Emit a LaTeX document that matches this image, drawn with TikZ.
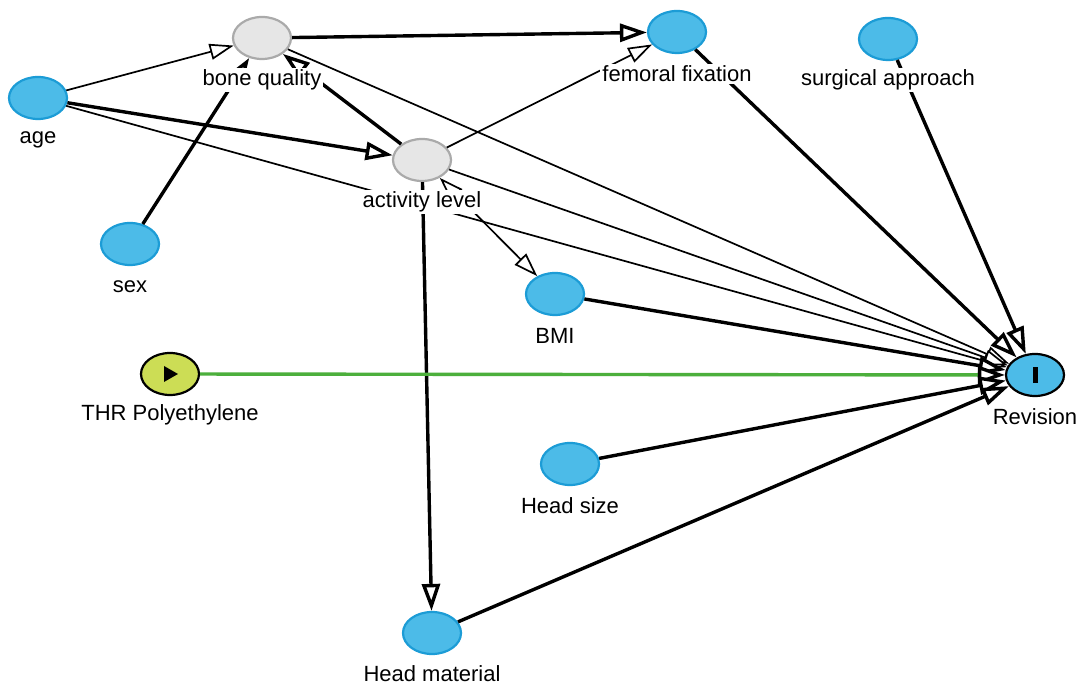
\documentclass[tikz,border=0pt]{standalone}
\usepackage{fontspec}
\setmainfont{Liberation Sans}
\usetikzlibrary{arrows.meta,shapes.geometric}
\definecolor{nblue}{RGB}{76,187,232}
\definecolor{nbord}{RGB}{28,156,214}
\definecolor{ngray}{RGB}{230,230,230}
\definecolor{ngbord}{RGB}{170,170,170}
\definecolor{nyel}{RGB}{204,221,85}
\definecolor{egreen}{RGB}{76,175,60}
\begin{document}
\begin{tikzpicture}[x=0.5pt,y=-0.5pt,
 var/.style={ellipse, minimum width=29pt, minimum height=21pt, inner sep=0pt, line width=1.1pt},
 obs/.style={var, fill=nblue, draw=nbord},
 lat/.style={var, fill=ngray, draw=ngbord},
 lab/.style={fill=white, inner sep=1pt, font=\fontsize{11}{12}\selectfont},
 tedge/.style={line width=0.85pt, -{Triangle[fill=white,length=12pt,width=8pt]}},
 kedge/.style={line width=1.7pt, -{Triangle[fill=white,length=13.5pt,width=9pt]}},
]
\useasboundingbox[fill=white] (0,0) rectangle (1080,688);
% nodes
\node[obs] (age) at (38,98) {};
\node[lat] (bq) at (262,38) {};
\node[obs] (sex) at (130,244) {};
\node[lat] (act) at (422,160) {};
\node[obs] (ff) at (677,32) {};
\node[obs] (sa) at (888,39) {};
\node[obs] (bmi) at (555,294) {};
\node[var, fill=nyel, draw=black] (thr) at (170,374) {};
\node[var, fill=nblue, draw=black] (rev) at (1035,375) {};
\node[obs] (hs) at (570,464) {};
\node[obs] (hm) at (432,633) {};
% edges
\draw[tedge] (age) -- (bq);
\draw[kedge] (age) -- (act);
\draw[tedge] (age) -- (rev);
\draw[kedge] (sex) -- (bq);
\draw[kedge] (act) -- (bq);
\draw[kedge] (bq) -- (ff);
\draw[tedge] (bq) -- (rev);
\draw[tedge] (act) -- (ff);
\draw[tedge] (act) -- (rev);
\draw[tedge, {Triangle[fill=white,length=12pt,width=8pt]}-{Triangle[fill=white,length=12pt,width=8pt]}] (act) -- (bmi);
\draw[kedge] (act) -- (hm);
\draw[kedge] (ff) -- (rev);
\draw[kedge] (sa) -- (rev);
\draw[kedge] (bmi) -- (rev);
\draw[line width=1.7pt, draw=egreen, -{Triangle[color=black,fill=white,length=13.5pt,width=9pt]}] (thr) -- (rev);
\draw[kedge] (hs) -- (rev);
\draw[kedge] (hm) -- (rev);
% node glyphs
\fill ([shift={(-6,-8)}]thr.center) -- ++(0,16) -- ++(14,-8) -- cycle;
\fill ([shift={(-2.5,-8)}]rev.center) rectangle ++(5,16);
% labels
\node[lab] (lage) at (38,140) {age};
\node[lab] (lbq) at (262,80) {bone quality};
\node[lab] (lsex) at (130,287) {sex};
\node[lab] (lact) at (422,202) {activity level};
\node[lab] (lff) at (677,74) {femoral fixation};
\node[lab] (lsa) at (888,80) {surgical approach};
\node[lab] (lbmi) at (555,336) {BMI};
\node[lab] (lthr) at (170,415) {THR Polyethylene};
\node[lab] (lrev) at (1035,417) {Revision};
\node[lab] (lhs) at (570,506) {Head size};
\node[lab] (lhm) at (432,674) {Head material};
\end{tikzpicture}
\end{document}
